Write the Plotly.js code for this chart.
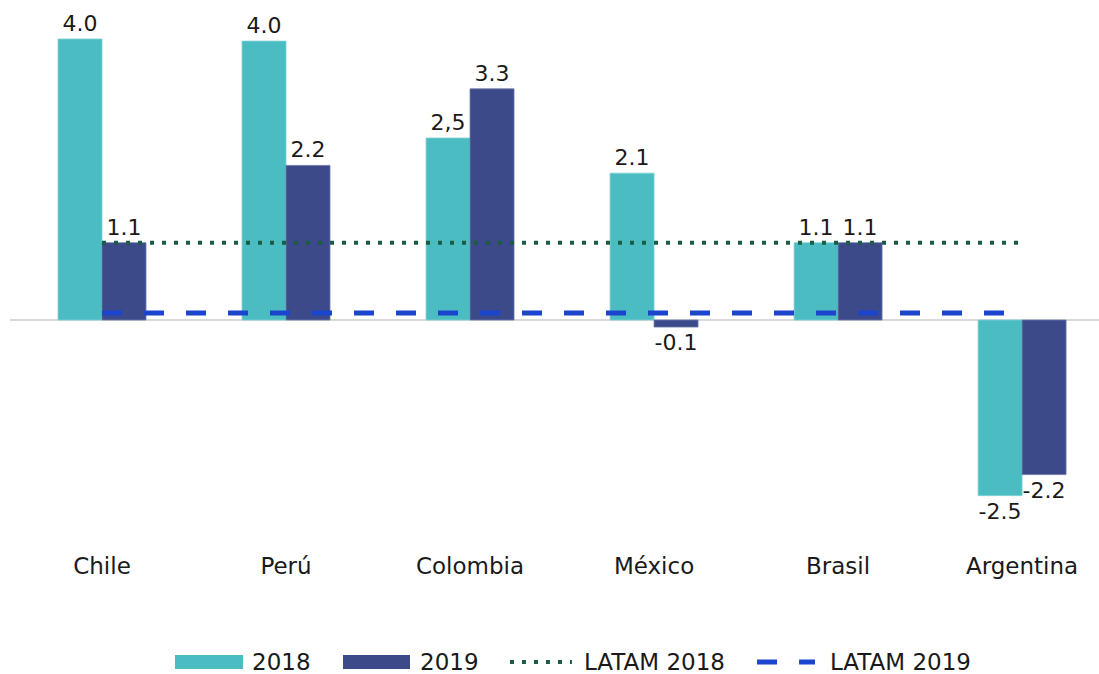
<!DOCTYPE html>
<html>
<head>
<meta charset="utf-8">
<script src="https://cdn.plot.ly/plotly-3.0.1.min.js"></script>
<style>html,body{margin:0;padding:0;background:#fff;}#chart{width:1099px;height:674px;}</style>
</head>
<body>
<div id="chart"></div>
<script>
const categories = ["Chile", "Perú", "Colombia", "México", "Brasil", "Argentina"];
const values2018 = [4.0, 3.97, 2.59, 2.09, 1.1, -2.5];
const values2019 = [1.1, 2.2, 3.29, -0.1, 1.1, -2.2];
const labels2018 = ["4.0", "4.0", "2,5", "2.1", "1.1", "-2.5"];
const labels2019 = ["1.1", "2.2", "3.3", "-0.1", "1.1", "-2.2"];
const latam2018 = [1.1, 1.1, 1.1, 1.1, 1.1, 1.1];
const latam2019 = [0.1, 0.1, 0.1, 0.1, 0.1, 0.1];
const seriesNames = ["2018", "2019", "LATAM 2018", "LATAM 2019"];

const FONT = "DejaVu Sans, sans-serif";
const C18 = "#4BBCC1", C19 = "#3C4A8A", CL18 = "#1A5C44", CL19 = "#1A45CC";
const DOT = "4px,8px", DASH = "20px,22px";

const traces = [
  {type: "bar", name: seriesNames[0], x: categories, y: values2018, text: labels2018,
   textposition: "outside", textfont: {size: 22, color: "#1a1a1a", family: FONT},
   marker: {color: C18, line: {color: "#7fd0d4", width: 0.8}}, cliponaxis: false, showlegend: false},
  {type: "bar", name: seriesNames[1], x: categories, y: values2019, text: labels2019,
   textposition: "outside", textfont: {size: 22, color: "#1a1a1a", family: FONT},
   marker: {color: C19, line: {color: "#6a76a8", width: 0.8}}, cliponaxis: false, showlegend: false},
  {type: "scatter", mode: "lines", name: seriesNames[2], x: categories, y: latam2018,
   line: {color: CL18, width: 4, dash: DOT}, showlegend: false},
  {type: "scatter", mode: "lines", name: seriesNames[3], x: categories, y: latam2019,
   line: {color: CL19, width: 5, dash: DASH}, showlegend: false}
];

// custom legend (paper coordinates)
const LY = -0.2036;
const shapes = [
  {type: "rect", xref: "paper", yref: "paper", x0: 0.1515, x1: 0.2140, y0: -0.1909, y1: -0.2164,
   fillcolor: C18, line: {width: 0}},
  {type: "rect", xref: "paper", yref: "paper", x0: 0.3058, x1: 0.3673, y0: -0.1909, y1: -0.2164,
   fillcolor: C19, line: {width: 0}},
  {type: "line", xref: "paper", yref: "paper", x0: 0.4591, x1: 0.5160, y0: LY, y1: LY,
   line: {color: CL18, width: 4, dash: DOT}},
  {type: "line", xref: "paper", yref: "paper", x0: 0.6860, x1: 0.7392, y0: LY, y1: LY,
   line: {color: CL19, width: 5, dash: DASH}}
];
const legX = [0.2204, 0.3747, 0.5253, 0.7511];
const annotations = seriesNames.map((n, i) => ({
  xref: "paper", yref: "paper", x: legX[i], y: LY, xanchor: "left", yanchor: "middle",
  text: n, showarrow: false, font: {size: 23, family: FONT, color: "#1a1a1a"}
}));

const layout = {
  width: 1099, height: 674,
  margin: {l: 10, r: 0, t: 0, b: 124},
  paper_bgcolor: "#fff", plot_bgcolor: "#fff",
  font: {family: FONT, color: "#1a1a1a"},
  barmode: "group", bargap: 0.522, bargroupgap: 0,
  xaxis: {type: "category", range: [-0.5, 5.418], showgrid: false, showline: false,
          ticks: "", tickfont: {size: 23, family: FONT, color: "#1a1a1a"}, fixedrange: true},
  yaxis: {range: [-3.274, 4.555], showgrid: false, showticklabels: false, ticks: "",
          zeroline: true, zerolinecolor: "#d9d9d9", zerolinewidth: 2, fixedrange: true},
  showlegend: false,
  shapes: shapes,
  annotations: annotations
};

Plotly.newPlot("chart", traces, layout, {displayModeBar: false, staticPlot: true});
</script>
</body>
</html>
